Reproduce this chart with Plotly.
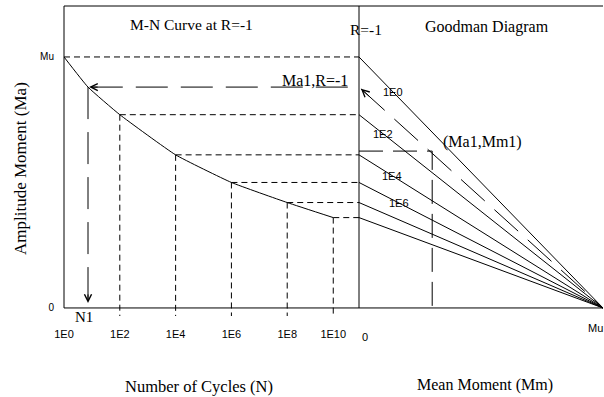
import plotly.graph_objects as go

# ---------------- data (schematic values) ----------------
MU = 1.0  # ultimate moment (normalised)

# decade marks on the cycle axis (position of log10 N as drawn on the schematic)
cycle_tick_pos = [0, 2, 4, 6, 8, 9.65]
cycle_tick_text = ["1E0", "1E2", "1E4", "1E6", "1E8", "1E10"]

# M-N curve at R=-1 : amplitude moment (fraction of Mu) at the decade marks
mn_logn = [0, 2, 4, 6, 8, 9.65]
mn_ma = [1.0, 0.77, 0.61, 0.50, 0.42, 0.36]

# example point (N1, Ma1) on the M-N curve
n1_logn = 0.86
ma1 = 0.88

# example point (Ma1, Mm1) on the Goodman diagram
mm1 = 0.30
ma1_at_mm1 = 0.625

# labels of the constant-life lines and where along Mm they are written
life_labels = ["1E0", "1E2", "1E4", "1E6"]
life_label_mm = [0.139, 0.098, 0.135, 0.164]

# ---------------- layout constants ----------------
W, H = 604, 397
ML, MR, MT, MB = 64, 1, 6, 81
PW, PH = W - ML - MR, H - MT - MB
Y_MIN, Y_MAX = -0.032, 1.203
SPLIT = 295 / PW              # where the Goodman panel starts (paper x)
X1_MAX = 10.573               # right end of the cycle axis
F0 = (0 - Y_MIN) / (Y_MAX - Y_MIN)   # paper y of Ma = 0

SERIF = "Liberation Serif, Times New Roman, serif"
SANS = "Liberation Sans, Arial, sans-serif"
SHORT = "6px,4px"
LONG = "32px,13px"
BLACK = "#000000"


def paper(px, py):
    return (px - ML) / PW, (MT + PH - py) / PH


fig = go.Figure()

# M-N curve
curve_x = mn_logn[:1] + [n1_logn] + mn_logn[1:]
curve_y = mn_ma[:1] + [ma1] + mn_ma[1:]
fig.add_trace(go.Scatter(x=curve_x, y=curve_y, mode="lines",
                         line=dict(color=BLACK, width=1, shape="spline", smoothing=0.4),
                         xaxis="x", yaxis="y", hoverinfo="skip"))

# horizontal short-dash lines from curve points to the R=-1 axis
hx, hy = [], []
for n, m in zip(mn_logn, mn_ma):
    hx += [n, X1_MAX, None]
    hy += [m, m, None]
fig.add_trace(go.Scatter(x=hx, y=hy, mode="lines",
                         line=dict(color=BLACK, width=1, dash=SHORT),
                         xaxis="x", yaxis="y", hoverinfo="skip"))

# vertical short-dash lines from curve points to below the cycle axis
vx, vy = [], []
for n, m in zip(mn_logn[1:], mn_ma[1:]):
    vx += [n, n, None]
    vy += [m, Y_MIN, None]
fig.add_trace(go.Scatter(x=vx, y=vy, mode="lines",
                         line=dict(color=BLACK, width=1, dash=SHORT),
                         xaxis="x", yaxis="y", hoverinfo="skip"))

# N1 / Ma1 long-dash construction lines
fig.add_trace(go.Scatter(x=[n1_logn, n1_logn], y=[ma1, 0.02], mode="lines",
                         line=dict(color=BLACK, width=1, dash=LONG),
                         xaxis="x", yaxis="y", hoverinfo="skip"))
fig.add_trace(go.Scatter(x=[n1_logn + 0.1, 10.25], y=[ma1, ma1], mode="lines",
                         line=dict(color=BLACK, width=1, dash=LONG),
                         xaxis="x", yaxis="y", hoverinfo="skip"))

# Goodman constant-life lines
gx, gy = [], []
for m in mn_ma:
    gx += [0, MU, None]
    gy += [m, 0, None]
fig.add_trace(go.Scatter(x=gx, y=gy, mode="lines",
                         line=dict(color=BLACK, width=1),
                         xaxis="x2", yaxis="y", hoverinfo="skip"))

# Ma1 constant-life line (long dash)
fig.add_trace(go.Scatter(x=[0.008, MU], y=[ma1 * (1 - 0.008), 0], mode="lines",
                         line=dict(color=BLACK, width=1, dash=LONG),
                         xaxis="x2", yaxis="y", hoverinfo="skip"))

# (Ma1, Mm1) construction lines
fig.add_trace(go.Scatter(x=[0, mm1, mm1], y=[ma1_at_mm1, ma1_at_mm1, 0], mode="lines",
                         line=dict(color=BLACK, width=1, dash="24px,10px"),
                         xaxis="x2", yaxis="y", hoverinfo="skip"))

# frame, axis line and divider
line = dict(color=BLACK, width=1)
shapes = [
    dict(type="line", xref="paper", yref="paper", x0=0, x1=1, y0=1, y1=1, line=line),
    dict(type="line", xref="paper", yref="paper", x0=0, x1=0, y0=F0, y1=1, line=line),
    dict(type="line", xref="paper", yref="paper", x0=0, x1=1, y0=F0, y1=F0, line=line),
    dict(type="line", xref="paper", yref="paper", x0=SPLIT, x1=SPLIT, y0=F0, y1=1, line=line),
]

ann = []


def text(s, px, py, size, family=SERIF, angle=0):
    x, y = paper(px, py)
    ann.append(dict(text=s, x=x, y=y, xref="paper", yref="paper", showarrow=False,
                    xanchor="center", yanchor="middle", textangle=angle,
                    font=dict(family=family, size=size, color=BLACK)))


text("M-N Curve at R=-1", 191, 25, 15.5)
text("R=-1", 366, 30, 15.5)
text("Goodman Diagram", 487, 27, 16)
text("Ma1,R=-1", 315, 80, 16)
text("(Ma1,Mm1)", 482, 142, 16)
text("N1", 84, 317, 15)
text("Amplitude Moment (Ma)", 20, 169, 17, angle=-90)
text("Number of Cycles (N)", 199, 386, 16.5)
text("Mean Moment (Mm)", 485, 385, 16)
text("0", 365, 337, 11, SANS)
text("Mu", 595, 328, 11, SANS)

# labels on the constant-life lines
for lab, mm, m in zip(life_labels, life_label_mm, mn_ma):
    ann.append(dict(text=lab, x=mm, y=m * (1 - mm / MU), xref="x2", yref="y",
                    showarrow=False, xanchor="center", yanchor="middle",
                    font=dict(family=SANS, size=11, color=BLACK)))

# arrowheads
arrow = dict(text="", showarrow=True, arrowhead=5, arrowsize=1.4, arrowwidth=1,
             arrowcolor=BLACK, axref="pixel", ayref="pixel")
ann.append(dict(arrow, x=n1_logn, y=0.02, xref="x", yref="y", ax=0, ay=-10))
ann.append(dict(arrow, x=n1_logn + 0.04, y=ma1, xref="x", yref="y", ax=10, ay=0))
ann.append(dict(arrow, x=0.008, y=ma1 * (1 - 0.008), xref="x2", yref="y", ax=10, ay=9))

fig.update_layout(
    width=W, height=H,
    margin=dict(l=ML, r=MR, t=MT, b=MB, pad=0),
    paper_bgcolor="white", plot_bgcolor="white",
    showlegend=False,
    shapes=shapes, annotations=ann,
    xaxis=dict(domain=[0, SPLIT], range=[0, X1_MAX], showgrid=False, zeroline=False,
               showline=False, ticks="", tickvals=cycle_tick_pos, ticktext=cycle_tick_text,
               tickfont=dict(family=SANS, size=11, color=BLACK), ticklabelstandoff=10,
               fixedrange=True),
    xaxis2=dict(domain=[SPLIT, 1], range=[0, MU], anchor="y", showgrid=False,
                zeroline=False, showline=False, showticklabels=False, ticks="",
                fixedrange=True),
    yaxis=dict(range=[Y_MIN, Y_MAX], showgrid=False, zeroline=False, showline=False,
               ticks="", tickvals=[0, MU], ticktext=["0", "Mu"],
               tickfont=dict(family=SANS, size=10, color=BLACK), ticklabelstandoff=9,
               fixedrange=True),
)

fig.write_html("out.html")
